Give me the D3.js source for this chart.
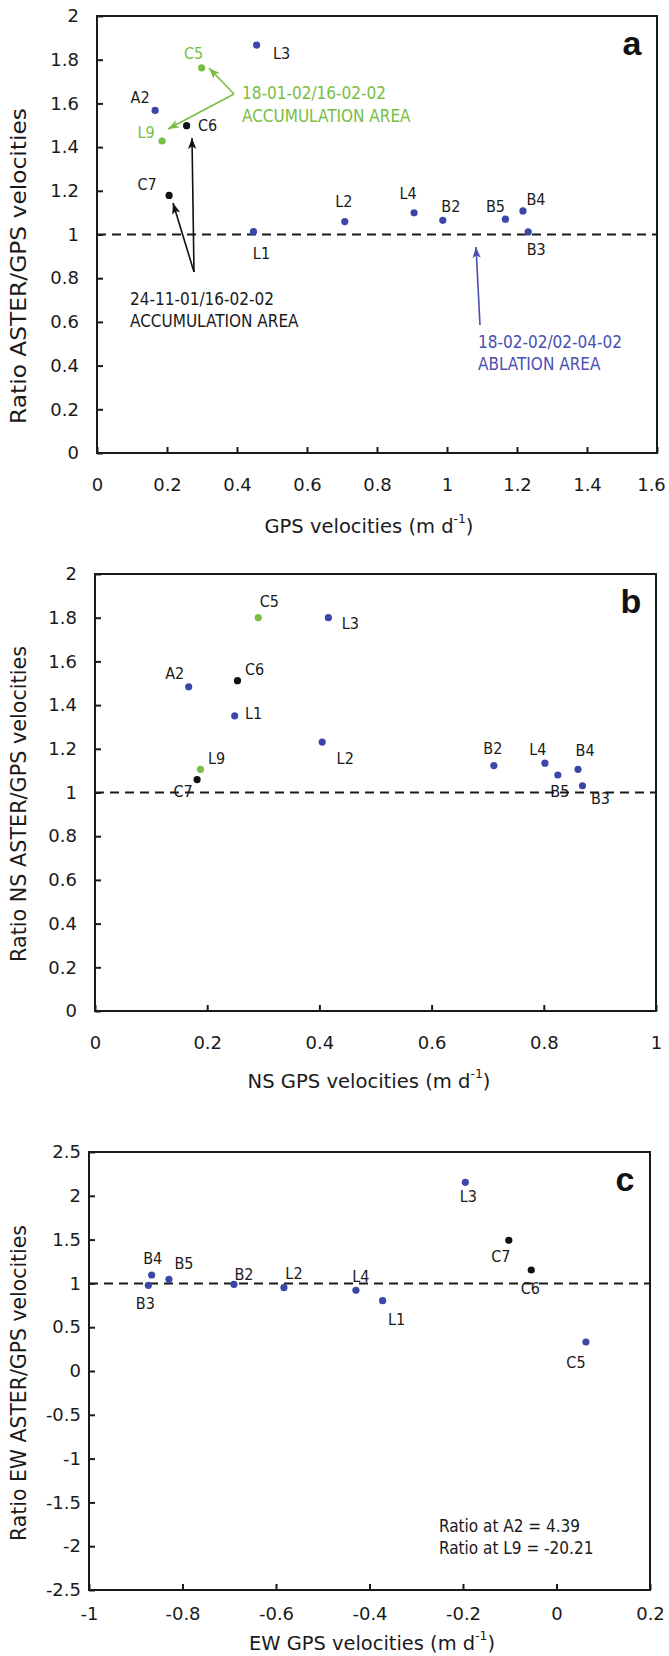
<!DOCTYPE html>
<html>
<head>
<meta charset="utf-8">
<script src="https://cdn.jsdelivr.net/npm/d3@7"></script>
<style>
body { margin: 0; background: #fff; }
svg { display: block; }
.tick text { font-family: "DejaVu Sans", sans-serif; font-size: 18px; fill: #1a1a1a; }
.tick line { stroke: #1a1a1a; stroke-width: 2; }
.lbl { font-family: "DejaVu Sans Condensed", "DejaVu Sans", sans-serif; font-stretch: condensed; font-size: 16px; fill: #1a1a1a; }
.note { font-family: "DejaVu Sans Condensed", "DejaVu Sans", sans-serif; font-stretch: condensed; font-size: 17px; }
.ttl { font-family: "DejaVu Sans", sans-serif; font-size: 19px; fill: #1a1a1a; }
.letter { font-family: "Liberation Sans", Arial, sans-serif; font-weight: bold; font-size: 34px; fill: #111; }
</style>
</head>
<body>
<div class="container"></div>
<script>
// ---- data ----

// panel a : ratio ASTER/GPS vs GPS velocity
var namesA = ["L3", "C5", "A2", "L9", "C6", "C7", "L1", "L2", "L4", "B2", "B5", "B4", "B3"];
var gpsA   = [0.456, 0.299, 0.166, 0.186, 0.256, 0.206, 0.447, 0.708, 0.906, 0.988, 1.167, 1.217, 1.232];
var ratioA = [1.867, 1.763, 1.568, 1.428, 1.498, 1.179, 1.013, 1.059, 1.099, 1.065, 1.070, 1.108, 1.012];
var groupA = ["abl", "acc2", "abl", "acc2", "acc1", "acc1", "abl", "abl", "abl", "abl", "abl", "abl", "abl"];

// panel b : NS component
var namesB = ["C5", "L3", "A2", "C6", "L1", "L2", "L9", "C7", "B2", "L4", "B5", "B4", "B3"];
var gpsB   = [0.291, 0.416, 0.167, 0.254, 0.249, 0.405, 0.188, 0.182, 0.711, 0.802, 0.825, 0.861, 0.869];
var ratioB = [1.80, 1.80, 1.484, 1.512, 1.351, 1.231, 1.106, 1.059, 1.123, 1.134, 1.080, 1.106, 1.031];
var groupB = ["acc2", "abl", "abl", "acc1", "abl", "abl", "acc2", "acc1", "abl", "abl", "abl", "abl", "abl"];

// panel c : EW component
var namesC = ["L3", "C7", "C6", "B4", "B5", "B3", "B2", "L2", "L4", "L1", "C5"];
var gpsC   = [-0.195, -0.102, -0.054, -0.866, -0.829, -0.873, -0.690, -0.583, -0.429, -0.372, 0.063];
var ratioC = [2.154, 1.492, 1.153, 1.096, 1.047, 0.978, 0.990, 0.951, 0.921, 0.803, 0.331];
var groupC = ["abl", "acc1", "acc1", "abl", "abl", "abl", "abl", "abl", "abl", "abl", "abl"];

var xTicksA = [0, 0.2, 0.4, 0.6, 0.8, 1, 1.2, 1.4, 1.6];
var yTicksA = [0, 0.2, 0.4, 0.6, 0.8, 1, 1.2, 1.4, 1.6, 1.8, 2];
var xTicksB = [0, 0.2, 0.4, 0.6, 0.8, 1];
var yTicksB = [0, 0.2, 0.4, 0.6, 0.8, 1, 1.2, 1.4, 1.6, 1.8, 2];
var xTicksC = [-1, -0.8, -0.6, -0.4, -0.2, 0, 0.2];
var yTicksC = [-2.5, -2, -1.5, -1, -0.5, 0, 0.5, 1, 1.5, 2, 2.5];

var extraC = ["Ratio at A2 = 4.39", "Ratio at L9 =  -20.21"];

// ---- layout (label offsets in px from the point) ----
var offA = [[25, 8], [-8, -14], [-15, -13], [-16, -8], [21, 0], [-22, -11], [8, 22], [-1, -20], [-6, -19], [8, -14], [-10, -13], [13, -11], [8, 18]];
var offB = [[11, -16], [22, 6], [-14, -13], [17, -11], [19, -2], [23, 16], [16, -11], [-14, 12], [-1, -17], [-7, -14], [2, 16], [7, -19], [18, 13]];
var offC = [[3, 14], [-8, 16], [-1, 19], [1, -16], [15, -16], [-3, 18], [10, -10], [10, -14], [5, -14], [14, 19], [-10, 20]];

var colors = { abl: "#3b47a8", acc1: "#111111", acc2: "#79bd42" };

var svg = d3.select(".container").append("svg")
    .attr("width", 669)
    .attr("height", 1656);

var defs = svg.append("defs");
function makeMarker(id, color) {
    defs.append("marker")
        .attr("id", id)
        .attr("viewBox", "0 0 10 10")
        .attr("refX", 10).attr("refY", 5)
        .attr("markerWidth", 11).attr("markerHeight", 11)
        .attr("markerUnits", "userSpaceOnUse")
        .attr("orient", "auto")
      .append("path")
        .attr("d", "M0,1.2L10,5L0,8.8L2.5,5Z")
        .attr("fill", color);
}
makeMarker("arrG", colors.acc2);
makeMarker("arrK", "#111");
makeMarker("arrB", "#4a4fb3");

function fmt(d) { return String(Math.round(d * 10) / 10); }

function drawPanel(p) {
    var g = svg.append("g");
    var x = d3.scaleLinear().domain(p.xdom).range([p.left, p.right]);
    var y = d3.scaleLinear().domain(p.ydom).range([p.bottom, p.top]);

    var xa = g.append("g")
        .attr("transform", "translate(0," + p.bottom + ")")
        .call(d3.axisBottom(x).tickValues(p.xticks).tickFormat(fmt)
            .tickSizeInner(-6).tickSizeOuter(0).tickPadding(p.xpad))
        .call(function (a) { a.select(".domain").remove(); });
    // last label sits at the page edge, pull it in a little
    xa.selectAll(".tick:last-of-type text").attr("dx", p.lastdx || 0);

    g.append("g")
        .attr("transform", "translate(" + p.left + ",0)")
        .call(d3.axisLeft(y).tickValues(p.yticks).tickFormat(fmt)
            .tickSizeInner(-6).tickSizeOuter(0).tickPadding(p.ypad))
        .call(function (a) { a.select(".domain").remove(); });

    // frame
    g.append("rect")
        .attr("x", p.left).attr("y", p.top)
        .attr("width", p.right - p.left).attr("height", p.bottom - p.top)
        .attr("fill", "none").attr("stroke", "#1a1a1a").attr("stroke-width", 2);

    // ratio = 1
    g.append("line")
        .attr("x1", p.left).attr("x2", p.right)
        .attr("y1", y(1)).attr("y2", y(1))
        .attr("stroke", "#1a1a1a").attr("stroke-width", 2)
        .attr("stroke-dasharray", "9,6");

    var idx = d3.range(p.names.length);
    g.selectAll("circle.pt").data(idx).enter().append("circle")
        .attr("class", "pt")
        .attr("cx", function (i) { return x(p.xs[i]); })
        .attr("cy", function (i) { return y(p.ys[i]); })
        .attr("r", 3.6)
        .attr("fill", function (i) { return colors[p.groups[i]]; });

    g.selectAll("text.lbl").data(idx).enter().append("text")
        .attr("class", "lbl")
        .attr("x", function (i) { return x(p.xs[i]) + p.off[i][0]; })
        .attr("y", function (i) { return y(p.ys[i]) + p.off[i][1]; })
        .attr("text-anchor", "middle")
        .attr("dominant-baseline", "central")
        .style("fill", function (i) { return p.groups[i] == "acc2" && p.id == "a" ? colors.acc2 : "#1a1a1a"; })
        .text(function (i) { return p.names[i]; });

    // panel letter
    g.append("text").attr("class", "letter")
        .attr("x", p.right - 25).attr("y", p.top + 27)
        .attr("text-anchor", "middle").attr("dominant-baseline", "central")
        .text(p.id);

    // axis titles
    var xt = g.append("text").attr("class", "ttl")
        .attr("x", p.xtx).attr("y", p.xty)
        .attr("text-anchor", "middle").attr("dominant-baseline", "central")
        .attr("textLength", p.xlen).attr("lengthAdjust", "spacingAndGlyphs");
    xt.append("tspan").text(p.xtitle + " (m d");
    xt.append("tspan").attr("dy", -7).style("font-size", "12px").text("-1");
    xt.append("tspan").attr("dy", 7).text(")");

    g.append("text").attr("class", "ttl")
        .attr("transform", "translate(" + 19 + "," + p.yty + ") rotate(-90)")
        .attr("text-anchor", "middle").attr("dominant-baseline", "central")
        .attr("textLength", 316).attr("lengthAdjust", "spacingAndGlyphs")
        .style("font-size", "21px")
        .text(p.ytitle);

    return { g: g, x: x, y: y };
}

var pa = drawPanel({ id: "a", left: 97, right: 657, top: 16, bottom: 453,
    xdom: [0, 1.6], ydom: [0, 2], xticks: xTicksA, yticks: yTicksA, xpad: 25, ypad: 18, lastdx: -6,
    names: namesA, xs: gpsA, ys: ratioA, groups: groupA, off: offA,
    xtitle: "GPS velocities", xtx: 369, xty: 526, xlen: 209,
    ytitle: "Ratio ASTER/GPS velocities", yty: 266 });

var pb = drawPanel({ id: "b", left: 95, right: 656, top: 574, bottom: 1011,
    xdom: [0, 1], ydom: [0, 2], xticks: xTicksB, yticks: yTicksB, xpad: 25, ypad: 18,
    names: namesB, xs: gpsB, ys: ratioB, groups: groupB, off: offB,
    xtitle: "NS GPS velocities", xtx: 369, xty: 1081, xlen: 243,
    ytitle: "Ratio NS ASTER/GPS velocities", yty: 804 });

var pc = drawPanel({ id: "c", left: 89, right: 650, top: 1152, bottom: 1590,
    xdom: [-1, 0.2], ydom: [-2.5, 2.5], xticks: xTicksC, yticks: yTicksC, xpad: 17, ypad: 8,
    names: namesC, xs: gpsC, ys: ratioC, groups: groupC, off: offC,
    xtitle: "EW GPS velocities", xtx: 372, xty: 1643, xlen: 246,
    ytitle: "Ratio EW ASTER/GPS velocities", yty: 1383 });

// ---- annotations, panel a ----
var ga = pa.g;
function arrow(g, x1, y1, x2, y2, color, mk) {
    g.append("line")
        .attr("x1", x1).attr("y1", y1).attr("x2", x2).attr("y2", y2)
        .attr("stroke", color).attr("stroke-width", 1.6)
        .attr("marker-end", "url(#" + mk + ")");
}
// green
arrow(ga, 234, 94, 209, 68, colors.acc2, "arrG");
arrow(ga, 234, 94, 168, 129, colors.acc2, "arrG");
ga.append("text").attr("class", "note").attr("x", 242).attr("y", 93)
    .attr("dominant-baseline", "central").style("fill", colors.acc2).text("18-01-02/16-02-02");
ga.append("text").attr("class", "note").attr("x", 242).attr("y", 116)
    .attr("dominant-baseline", "central").style("fill", colors.acc2).text("ACCUMULATION AREA");
// black
arrow(ga, 194, 272, 192, 138, "#111", "arrK");
arrow(ga, 194, 272, 173, 203, "#111", "arrK");
ga.append("text").attr("class", "note").attr("x", 130).attr("y", 299)
    .attr("dominant-baseline", "central").style("fill", "#1a1a1a").text("24-11-01/16-02-02");
ga.append("text").attr("class", "note").attr("x", 130).attr("y", 321)
    .attr("dominant-baseline", "central").style("fill", "#1a1a1a").text("ACCUMULATION AREA");
// blue
arrow(ga, 480, 325, 476, 247, "#4a4fb3", "arrB");
ga.append("text").attr("class", "note").attr("x", 478).attr("y", 342)
    .attr("dominant-baseline", "central").style("fill", "#4a4fb3").text("18-02-02/02-04-02");
ga.append("text").attr("class", "note").attr("x", 478).attr("y", 364)
    .attr("dominant-baseline", "central").style("fill", "#4a4fb3").text("ABLATION AREA");

// ---- note, panel c ----
pc.g.selectAll("text.extra").data(extraC).enter().append("text")
    .attr("class", "note extra")
    .attr("x", 439)
    .attr("y", function (d, i) { return 1526 + i * 22; })
    .attr("dominant-baseline", "central")
    .style("font-size", "17px").style("fill", "#1a1a1a")
    .text(function (d) { return d; });
</script>
</body>
</html>
